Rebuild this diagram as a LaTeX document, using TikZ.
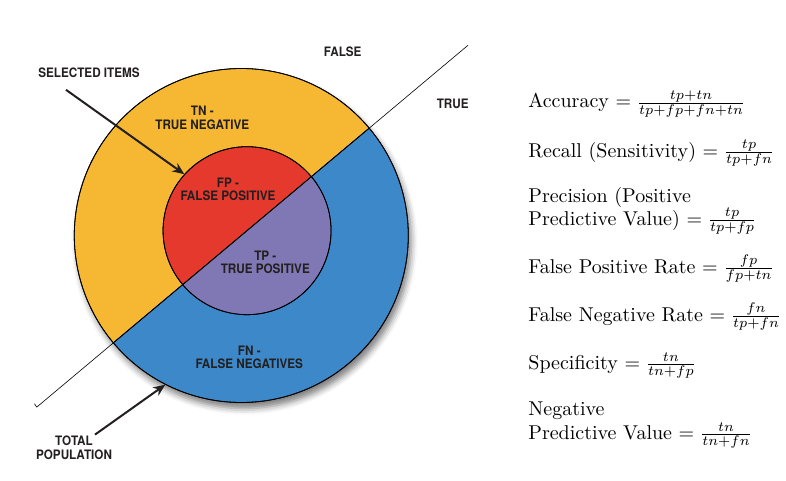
\documentclass[tikz,border=0pt]{standalone}
\usepackage{fontspec}
\newfontfamily\lblfont[FakeStretch=0.9]{TeX Gyre Heros}
\usetikzlibrary{arrows.meta,shadows.blur}
\definecolor{tnyellow}{RGB}{246,184,50}
\definecolor{fnblue}{RGB}{60,136,200}
\definecolor{fpred}{RGB}{229,57,45}
\definecolor{tppurple}{RGB}{127,120,180}
\definecolor{ink}{RGB}{35,31,32}
\begin{document}
\begin{tikzpicture}[x=1pt,y=1pt,
  lbl/.style={font=\lblfont\bfseries\fontsize{13}{13.6}\selectfont,align=center,text=ink,inner sep=0pt},
  eqn/.style={font=\normalsize,scale=2,transform shape,anchor=base west,inner sep=0pt},
  pointer/.style={-{Stealth[length=12pt,width=10pt]},line width=2pt,draw=ink}]
\useasboundingbox (0,0) rectangle (786,480);
\coordinate (O) at (241.3,244.5);
\coordinate (I) at ([shift={(40:7.5)}]O);
\coordinate (lineS) at ([shift={(220:267)}]O);
\coordinate (lineE) at ([shift={(40:296)}]O);
% shadow + halves
\fill[white,blur shadow={shadow xshift=3pt,shadow yshift=-6pt,shadow blur radius=6pt,shadow opacity=50}] (O) circle (167);
\draw [line width=0.8pt,fill=tnyellow] (O) ++(40:167) arc (40:220:167) -- cycle;
\draw [line width=0.8pt,fill=fnblue] (O) ++(220:167) arc (220:400:167) -- cycle;
\draw [line width=0.8pt,fill=fpred] (I) ++(40:84) arc (40:220:84) -- cycle;
\draw [line width=0.8pt,fill=tppurple] (I) ++(220:84) arc (220:400:84) -- cycle;
\node [circle,draw,line width=0.8pt,minimum size=334pt,inner sep=0pt] (outer) at (O) {};
\node [circle,draw,line width=0.8pt,minimum size=168pt,inner sep=0pt] (inner) at (I) {};
% true / false divide
\draw [line width=0.6pt] (lineS) -- (lineE);
\draw [line width=0.6pt] (lineS) -- ++(-2.3,3.4);
% labels
\node [lbl] (false) at (342.7,428.3) {FALSE};
\node [lbl] (true) at (452.7,375.7) {TRUE};
\node [lbl] (sel) at (89,407.3) {SELECTED ITEMS};
\node [lbl] (tn) at (202.3,362.3) {TN -\\TRUE NEGATIVE};
\node [lbl] (fp) at (228,290.5) {FP -\\FALSE POSITIVE};
\node [lbl] (tp) at (265.3,217.5) {TP -\\TRUE POSITIVE};
\node [lbl] (fn) at (249.3,122.5) {FN -\\FALSE NEGATIVES};
\node [lbl] (total) at (74,32.5) {TOTAL\\POPULATION};
\draw [pointer] ([xshift=-23pt,yshift=-12pt]sel.south) -- (inner.138);
\draw [pointer] ([xshift=21pt,yshift=1pt]total.north) -- (outer.243);
% measures
\node [eqn] (acc) at (528,372) {Accuracy $= \frac{tp+tn}{tp+fp+fn+tn}$};
\node [eqn] (rec) at (528,323) {Recall (Sensitivity) $= \frac{tp}{tp+fn}$};
\node [eqn] (prec) at (528,278) {Precision (Positive};
\node [eqn] (ppv) at (528,255) {Predictive Value) $= \frac{tp}{tp+fp}$};
\node [eqn] (fpr) at (528,207) {False Positive Rate $= \frac{fp}{fp+tn}$};
\node [eqn] (fnr) at (528,159) {False Negative Rate $= \frac{fn}{tp+fn}$};
\node [eqn] (spec) at (528,111) {Specificity $= \frac{tn}{tn+fp}$};
\node [eqn] (neg) at (528,65) {Negative};
\node [eqn] (npv) at (528,41) {Predictive Value $= \frac{tn}{tn+fn}$};
\end{tikzpicture}
\end{document}
